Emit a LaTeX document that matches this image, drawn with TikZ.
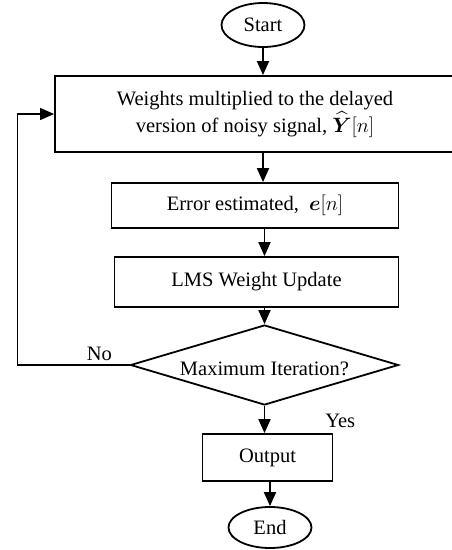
\documentclass[tikz,border=0pt]{standalone}
\usepackage{amsmath}
\usepackage{fontspec}
\setmainfont{Liberation Serif}
\usepackage{tikz}
\usetikzlibrary{shapes, arrows.meta, positioning}

\begin{document}
\begin{tikzpicture}[auto, font=\fontsize{20.5}{25}\selectfont, line width=1.8pt,
    >={Triangle[length=14pt, width=12pt]},
    block/.style={draw, rectangle, align=center, inner sep=0pt},
    term/.style={draw, ellipse, inner sep=0pt, minimum width=83pt},
    decision/.style={draw, diamond, aspect=3.35, inner sep=0pt}]
    \useasboundingbox (0,0) rectangle (451pt,-550pt);

    \node [term, minimum height=44pt] (start) at (263pt,-25pt) {Start};
    \node [block, below of=start, node distance=89pt, xshift=-8pt, minimum width=400pt, minimum height=76pt] (weights) {Weights multiplied to the delayed\\[2pt]version of noisy signal, $\widehat{\boldsymbol{Y}}[n]$};
    \node [block, below of=weights, node distance=91.5pt, minimum width=287pt, minimum height=45pt] (error) {Error estimated,\ \ $\boldsymbol{e}[n]$};
    \node [block, below of=error, node distance=76.5pt, xshift=1.5pt, minimum width=284pt, minimum height=50pt] (update) {LMS Weight Update};
    \node [decision, below of=update, node distance=83pt, xshift=8pt, minimum width=268pt, minimum height=80pt] (maxit) {\raisebox{-10pt}[0pt][0pt]{Maximum Iteration?}};
    \node [block, below of=maxit, node distance=92.5pt, xshift=3pt, minimum width=130pt, minimum height=47pt] (output) {Output};
    \node [term, below of=output, node distance=70pt, xshift=2.5pt, minimum height=41pt] (end) {End};
    \node [anchor=south west, inner sep=0pt] (yes) at ([xshift=-9pt, yshift=5pt]output.north east) {Yes};

    \draw [->] (start) -- (start |- weights.north);
    \draw [->] (weights.south -| start) -- (error.north -| start);
    \draw [->] (error.south -| maxit) -- (update.north -| maxit);
    \draw [->] (update.south -| maxit) -- (maxit.north);
    \draw [->] (maxit.south) -- (maxit.south |- output.north);
    \draw [->] (output.south -| end) -- (end.north);

    \draw [->, line width=1.2pt] (maxit.west) -- node[above, pos=0.27] {No} ++(-112pt,0) |- (weights.west);
\end{tikzpicture}
\end{document}
